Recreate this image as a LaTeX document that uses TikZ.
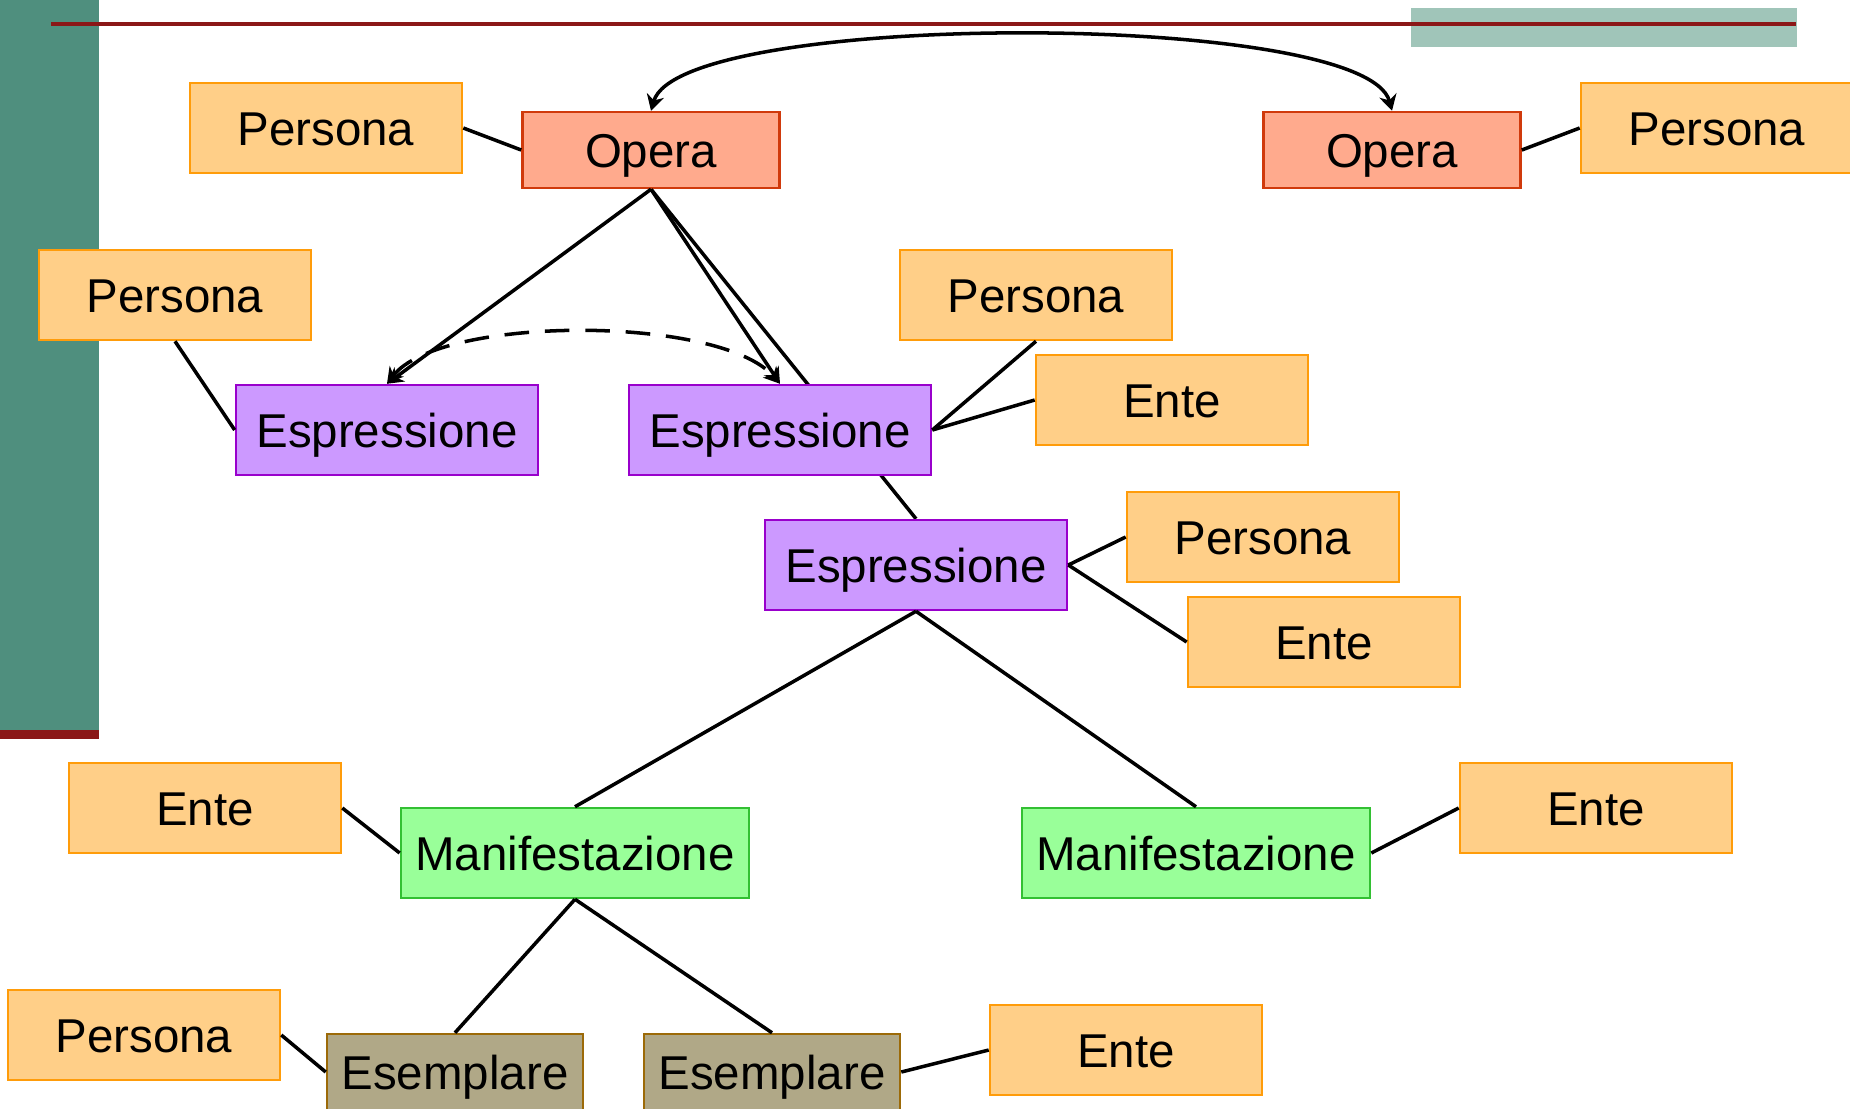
\documentclass[tikz,border=0pt]{standalone}
\usepackage{fontspec}
\setmainfont{Liberation Sans}
\usepackage{tikz}
\usetikzlibrary{arrows.meta,backgrounds}
\definecolor{barG}{HTML}{4F8F7E}
\definecolor{barT}{HTML}{A0C5B9}
\definecolor{barR}{HTML}{8B1717}
\definecolor{persF}{HTML}{FFCF88}
\definecolor{persD}{HTML}{FF9C0A}
\definecolor{opF}{HTML}{FFAA8D}
\definecolor{opD}{HTML}{D03A0C}
\definecolor{esF}{HTML}{CC99FF}
\definecolor{esD}{HTML}{9900CC}
\definecolor{maF}{HTML}{99FF99}
\definecolor{maD}{HTML}{33C033}
\definecolor{exF}{HTML}{B0A887}
\definecolor{exD}{HTML}{9C6A08}
\tikzset{
  box/.style={rectangle, line width=0.7pt, inner sep=0pt, text height=10pt,
    text depth=0pt, font=\fontsize{13.5}{16}\selectfont, minimum height=0.9cm},
  persbox/.style={box, fill=persF, draw=persD, minimum width=2.72cm},
  operabox/.style={box, fill=opF, draw=opD, minimum width=2.57cm, minimum height=0.76cm},
  esprbox/.style={box, fill=esF, draw=esD, minimum width=3.02cm},
  manifbox/.style={box, fill=maF, draw=maD, minimum width=3.48cm},
  esemplbox/.style={box, fill=exF, draw=exD, minimum width=2.56cm, minimum height=0.76cm},
  link/.style={line width=1pt, draw=black},
  arr/.style={link, -{Stealth[length=4.5pt,width=5pt]}},
  twoarr/.style={link, {Stealth[length=4.5pt,width=5pt]}-{Stealth[length=4.5pt,width=5pt]}},
}
\begin{document}
\begin{tikzpicture}[x=0.01cm, y=-0.01cm]
  \useasboundingbox (0,0) rectangle (1850,1108);
  \fill[barG] (0,0) rectangle (99,730);
  \fill[barR] (0,730) rectangle (99,739);
  \fill[barT] (1411,8) rectangle (1797,47);
  \draw[barR, line width=1.2pt] (51,24) -- (1796,24);

  \node[persbox] (p1) at (326,128) {Persona};
  \node[operabox] (o1) at (651,150) {Opera};
  \node[operabox] (o2) at (1392,150) {Opera};
  \node[persbox] (p2) at (1717,128) {Persona};
  \node[persbox] (p3) at (175,295) {Persona};
  \node[esprbox] (e1) at (387,430) {Espressione};
  \node[esprbox] (e2) at (780,430) {Espressione};
  \node[persbox] (p4) at (1036,295) {Persona};
  \node[persbox] (n1) at (1172,400) {Ente};
  \node[esprbox] (e3) at (916,565) {Espressione};
  \node[persbox] (p5) at (1263,537) {Persona};
  \node[persbox] (n2) at (1324,642) {Ente};
  \node[persbox] (n3) at (205,808) {Ente};
  \node[manifbox] (m1) at (575,853) {Manifestazione};
  \node[manifbox] (m2) at (1196,853) {Manifestazione};
  \node[persbox] (n4) at (1596,808) {Ente};
  \node[persbox] (p6) at (144,1035) {Persona};
  \node[esemplbox] (x1) at (455,1072) {Esemplare};
  \node[esemplbox] (x2) at (772,1072) {Esemplare};
  \node[persbox] (n5) at (1126,1050) {Ente};

  \begin{scope}[on background layer]
    \draw[link] (o1.south) -- (e3.north);
  \end{scope}
  \draw[twoarr] (o1.north) .. controls (680,10) and (1365,10) .. (o2.north);
  \draw[link] (p1.east) -- (o1.west);
  \draw[link] (o2.east) -- (p2.west);
  \draw[arr] (o1.south) -- (e1.north);
  \draw[arr] (o1.south) -- (e2.north);
  \draw[twoarr, dash pattern=on 7pt off 4.5pt] (e1.north) .. controls (440,315) and (720,315) .. (e2.north);
  \draw[link] (p3.south) -- (e1.west);
  \draw[link] (p4.south) -- (e2.east);
  \draw[link] (n1.west) -- (e2.east);
  \draw[link] (e3.east) -- (p5.west);
  \draw[link] (e3.east) -- (n2.west);
  \draw[link] (e3.south) -- (m1.north);
  \draw[link] (e3.south) -- (m2.north);
  \draw[link] (n3.east) -- (m1.west);
  \draw[link] (m2.east) -- (n4.west);
  \draw[link] (m1.south) -- (x1.north);
  \draw[link] (m1.south) -- (x2.north);
  \draw[link] (p6.east) -- (x1.west);
  \draw[link] (x2.east) -- (n5.west);
\end{tikzpicture}
\end{document}
